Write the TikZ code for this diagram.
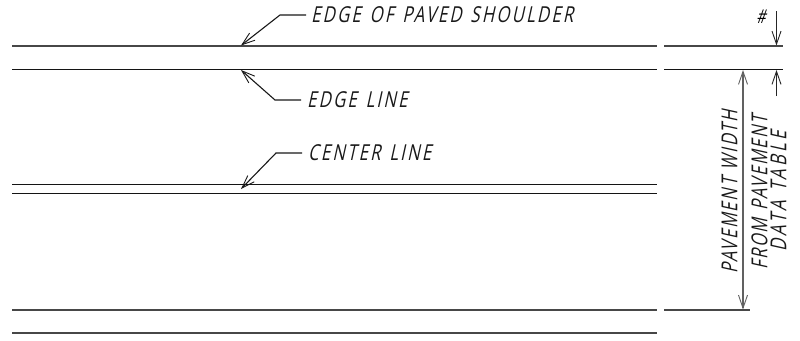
\documentclass[tikz,border=0pt]{standalone}
\usepackage{fontspec}
\setmainfont{Liberation Sans}
\newfontfamily\cadfont[FakeSlant=0.22,FakeStretch=0.76,LetterSpace=10,WordSpace=1.35]{Open Sans}
\newfontfamily\cadvfont[FakeSlant=0.22,FakeStretch=0.74,LetterSpace=8.5,WordSpace=1.3]{Open Sans}
\newfontfamily\cadwfont[FakeSlant=0.22,FakeStretch=0.76,LetterSpace=15,WordSpace=1.3]{Open Sans}
\usetikzlibrary{arrows.meta}
\tikzset{
  roadline/.style={line width=1.4pt,color=black!92},
  softroad/.style={line width=1.4pt,color=black!72},
  leaderline/.style={line width=1.1pt,color=black!90,-{Straight Barb[length=13pt,width=9pt,line width=0.9pt]}},
  dimline/.style={line width=1.1pt,color=black!85,-{Straight Barb[length=13pt,width=9pt,line width=0.9pt]}},
  dimboth/.style={line width=1.1pt,color=black!62,{Straight Barb[length=13pt,width=9pt,line width=0.9pt]}-{Straight Barb[length=13pt,width=9pt,line width=0.9pt]}},
  cadtext/.style={inner sep=0pt,font=\cadfont\fontsize{22}{24}\selectfont,text=black!90},
  cadvert/.style={inner sep=0pt,font=\cadvfont\fontsize{22}{24}\selectfont,text=black!90,rotate=90,align=center},
  cadwide/.style={inner sep=0pt,font=\cadwfont\fontsize{22}{24}\selectfont,text=black!90,rotate=90,align=center}
}
\begin{document}
\begin{tikzpicture}[x=1pt,y=-1pt]
\useasboundingbox (0,0) rectangle (800,340);
\fill[white] (0,0) rectangle (800,340);
% road lines, left part
\draw[softroad] (12,46) -- (657,46);
\draw[roadline] (12,69.5) -- (657,69.5);
\draw[roadline] (12,184.5) -- (657,184.5);
\draw[roadline] (12,193.5) -- (657,193.5);
\draw[softroad] (12,310) -- (657,310);
\draw[softroad] (12,333) -- (657,333);
% road lines, right part
\draw[softroad] (664,46) -- (783,46);
\draw[roadline] (664,69.5) -- (783,69.5);
\draw[softroad] (664,310) -- (750,310);
% labels
\node[cadtext,anchor=west] (shoulder) at (311,15) {EDGE OF PAVED SHOULDER};
\node[cadtext,anchor=west] (edge) at (307,100) {EDGE LINE};
\node[cadtext,anchor=west] (center) at (308,153) {CENTER LINE};
\node[cadvert] (width) at (729.5,192) {PAVEMENT WIDTH};
\node[cadvert] (from) at (759.5,192.5) {FROM PAVEMENT};
\node[cadwide] (table) at (778.5,191) {DATA TABLE};
\node[inner sep=0pt,font=\cadfont\fontsize{19}{19}\selectfont] (hash) at (761,17) {\#};
% leader targets
\coordinate (tipa) at (241,45.5);
\coordinate (tipb) at (241,70);
\coordinate (tipc) at (241,189);
\draw[leaderline] (306,15) -- (280,15) -- (tipa);
\draw[leaderline] (301,100) -- (275,100) -- (tipb);
\draw[leaderline] (302,153) -- (276,153) -- (tipc);
% dimensions
\coordinate (da) at (776.5,11);
\coordinate (db) at (776.5,45.5);
\coordinate (dc) at (776.5,96);
\coordinate (dd) at (776.5,70);
\coordinate (de) at (743,70);
\coordinate (df) at (743,309.5);
\draw[dimline] (da) -- (db);
\draw[dimline] (dc) -- (dd);
\draw[dimboth] (de) -- (df);
\end{tikzpicture}
\end{document}
